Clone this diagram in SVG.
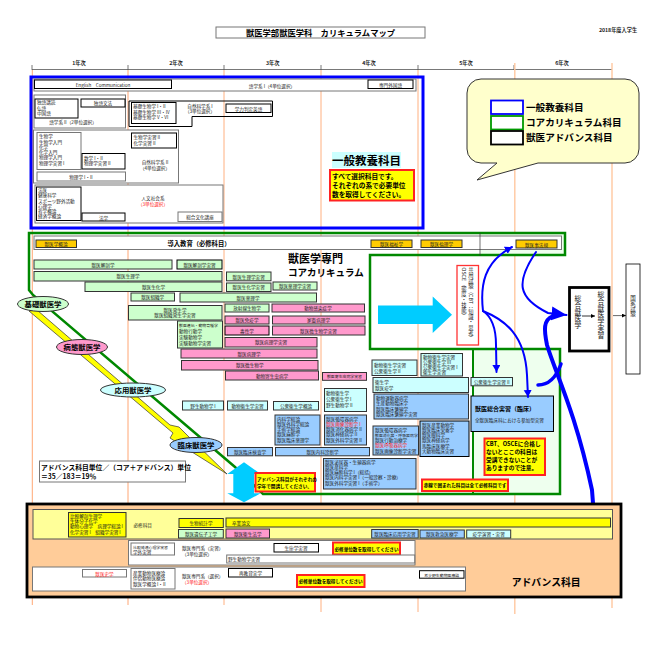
<svg xmlns="http://www.w3.org/2000/svg" width="650" height="650" viewBox="0 0 650 650">
<style>
text{font-family:"Noto Sans CJK JP","Noto Sans",sans-serif;font-size:4.6px;fill:#222}
.c{text-anchor:middle}
.b{font-weight:700;fill:#000}
.r{fill:#f22}
.y{font-size:5.2px;font-weight:700}
.v{writing-mode:vertical-rl}
.s{font-size:3.900px}
rect,ellipse,polygon{stroke:#333;stroke-width:1}
.w{fill:#fff}.g{fill:#cfc}.p{fill:#f9c}.a{fill:#cff}.u{fill:#9cf}.o{fill:#fc0}.l{fill:#ff0}
.w2{fill:#fff;stroke:#777}
.n{fill:none}
.k{fill:#fff;stroke:#000}
.e{fill:#ff0;stroke:#f22;stroke-width:2}
.bl{fill:none;stroke:#00f;stroke-linecap:round}
</style>
<defs>
<marker id="h" markerUnits="userSpaceOnUse" markerWidth="9" markerHeight="9" refX="7" refY="4" orient="auto"><path d="M0,0L7,4L0,8Z" fill="#00f"/></marker>
<marker id="hb" markerUnits="userSpaceOnUse" markerWidth="18" markerHeight="16" refX="15" refY="7" orient="auto"><path d="M0,0L15,7L0,14Z" fill="#00f"/></marker>
<marker id="hk" markerUnits="userSpaceOnUse" markerWidth="5" markerHeight="5" refX="4" refY="2" orient="auto"><path d="M0,0L4,2L0,4Z" fill="#000"/></marker>
</defs>

<g id="axis" fill="none">
<path d="M32,69.5H612M32,65V70M128,65V70M224,65V70M321,65V70M418,65V70M514,65V70" stroke="#555" stroke-width=".8"/>
<path d="M32.3,70V605M128,70V605" stroke="#ff9050" stroke-width=".8"/>
<path d="M224,70V605M321,70V612M418,70V612" stroke="#ffb080" stroke-width="1"/>
<path d="M514.8,63V614M612,63V608" stroke="#ffc8a0" stroke-width="1.4"/>
</g>
<text class="y c" x="79" y="65">1年次</text><text class="y c" x="176" y="65">2年次</text><text class="y c" x="272.7" y="65">3年次</text><text class="y c" x="369" y="65">4年次</text><text class="y c" x="466" y="65">5年次</text><text class="y c" x="562" y="65">6年次</text>
<g id="title"><rect class="w2" x="216" y="27" width="209" height="11"/><text class="b c" style="font-size:8.3px" x="320.500" y="36">獣医学部獣医学科　カリキュラムマップ</text></g>
<text class="y c" x="618" y="32">2018年度入学生</text>

<g id="legend">
<path d="M481,79H625a14,14 0 0 1 14,14V149a14,14 0 0 1-14,14H538L477,180L497,163H481a14,14 0 0 1-14-14V93a14,14 0 0 1 14-14Z" fill="#ffc" stroke="#333"/>
<rect x="491" y="100.500" width="32" height="13.500" fill="#fff" style="stroke:#00f;stroke-width:1.800"/>
<rect x="491" y="116" width="32" height="13.500" fill="#fff" style="stroke:#090;stroke-width:1.800"/>
<rect x="491" y="131" width="32" height="13.500" fill="#fff" style="stroke:#000;stroke-width:1.800"/>
<text class="b" style="font-size:9.600px" x="526" y="110.500">一般教養科目</text>
<text class="b" style="font-size:9.600px" x="526" y="125.500">コアカリキュラム科目</text>
<text class="b" style="font-size:9.600px" x="526" y="141">獣医アドバンス科目</text>
</g>

<g id="general">
<rect x="31" y="77" width="392" height="151" fill="none" style="stroke:#00f;stroke-width:3"/>
<g id="lang1"><rect class="w2" x="34" y="79" width="382" height="12"/><rect class="k" x="34.500" y="80" width="137" height="8.500"/><text class="c" x="103" y="86.500">English　Communication</text><text class="c" x="272" y="87.500">語学系 I（4単位選択）</text><rect class="k" x="368" y="80" width="45" height="8.500"/><text class="c" x="390.500" y="86.500">専門外国語</text></g>
<g id="lang2"><rect class="w2" x="34" y="95" width="91.500" height="33"/><rect class="k" x="35" y="99" width="43" height="19"/><text x="37" y="104">独語講読</text><text x="37" y="109.500">仏語</text><text x="37" y="115">中国語</text><rect class="k" x="81" y="99" width="44" height="8"/><text class="c" x="103" y="105">独語文法</text><text class="c" x="73" y="124">語学系 II（2単位選択）</text></g>
<g id="basic1"><polygon class="n" points="129,101 272.500,101 272.500,116.500 192,116.500 192,126.500 129,126.500" style="stroke:#000"/><rect class="k" x="131.500" y="102.500" width="44.500" height="21"/><text x="133" y="108">基礎生物学 I・II</text><text x="133" y="113.500">基礎生物学 III・IV</text><text x="133" y="119">基礎生物学 V・VI</text><text class="c" x="200" y="107.500">自然科学系 I</text><text class="c" x="200" y="113">（3単位選択）</text><rect class="k" x="226" y="104" width="45" height="8.500"/><text class="c" x="248.500" y="110.500">学力判定英語</text></g>
<g id="nature"><rect class="w2" x="33.500" y="130" width="145" height="53"/><rect class="w2" x="37" y="132.500" width="44" height="37"/><text x="39" y="138">生物学</text><text x="39" y="143.500">生物学入門</text><text x="39" y="148.500">化学</text><text x="39" y="154">化学入門</text><text x="39" y="159">物理学入門</text><text x="39" y="165">物理学実習 I</text><rect class="k" x="82" y="153.500" width="43" height="15.500"/><text x="84" y="159.500">数学 I・II</text><text x="84" y="165">物理学実習 II</text><rect class="w2" x="37" y="172" width="88.500" height="9"/><text class="c" x="81" y="178.500">物理学 I・II</text><rect class="k" x="131.500" y="133" width="45" height="15"/><text x="133.500" y="139">生物学実習 II</text><text x="133.500" y="145">化学実習 II</text><text class="c" x="155" y="164">自然科学系 II</text><text class="c" x="155" y="169.500">（4単位選択）</text></g>
<g id="human"><rect class="w2" x="35" y="185" width="188" height="38"/><rect class="k" x="36.500" y="187" width="44.500" height="33.500"/><text x="38" y="192">法医</text><text x="38" y="197">健康科学</text><text x="38" y="202.500">スポーツ野外活動</text><text x="38" y="207.500">心理学</text><text x="38" y="212.500">哲学概論</text><text x="38" y="217.500">経済学概論</text><rect class="k" x="82" y="213" width="43" height="8"/><text class="c" x="103.500" y="219.500">法学</text><text class="c" x="153" y="199.500">人文社会系</text><text class="c r" x="153" y="205.500">（3単位選択）</text><rect class="w2" x="178" y="212" width="44" height="9.500"/><text class="c" x="200" y="219">総合文化講座</text></g>
<g id="gen-label"><rect x="332" y="152" width="69" height="16" fill="#cff" style="stroke:none"/><text class="b c" style="font-size:11.500px" x="366.500" y="165">一般教養科目</text><rect class="e" x="330" y="170" width="84" height="30.500"/><text class="b" style="font-size:6.700px" x="332" y="178.500">すべて選択科目です。</text><text class="b" style="font-size:6.700px" x="332" y="187.500">それぞれの系で必要単位</text><text class="b" style="font-size:6.700px" x="332" y="196.500">数を取得してください。</text></g>
</g>

<g id="core-frame">
<polygon fill="#efe" style="stroke:none" points="480,233 565,233 565,255 480,255"/>
<polygon fill="#efe" style="stroke:none" points="473,349 560,349 560,494 473,494"/>
<polygon fill="none" style="stroke:#080;stroke-width:2.500" points="29,233 565,233 565,255 370,255 370,349 560,349 560,494 263,494 235,467 33,295 29,290"/>
<path d="M473,349V494" stroke="#080" stroke-width="2" fill="none"/>
<rect class="w2" x="34" y="236" width="527.500" height="13.500"/>
<path d="M480,233V256" stroke="#333" stroke-width=".7"/>
<text class="b c" style="font-size:6.300px" x="199" y="245.500">導入教育（必修科目）</text>
<text class="b" style="font-size:11px" x="288" y="263">獣医学専門</text>
<text class="b" style="font-size:9.500px" x="288" y="276">コアカリキュラム</text>
</g>

<g id="progress">
<polygon points="29,311 37,310 170,425 179,427 188,436 227,474 192,452 170,438 173,433" fill="#ff0" stroke="#000" style="stroke-width:.7"/>
<g id="basic"><ellipse cx="43" cy="304" rx="25.500" ry="7.500" class="g"/><text class="b c" style="font-size:7.400px" x="43" y="306.800">基礎獣医学</text></g>
<g id="patho"><ellipse cx="82" cy="347" rx="25.500" ry="7.500" class="p"/><text class="b c" style="font-size:7.400px" x="82" y="349.800">病態獣医学</text></g>
<g id="applied"><ellipse cx="133" cy="390" rx="32.500" ry="7" class="a"/><text class="b c" style="font-size:7.400px" x="133" y="392.800">応用獣医学</text></g>
<g id="clinical"><ellipse cx="196" cy="445" rx="26" ry="7.500" class="u"/><text class="b c" style="font-size:7.400px" x="196" y="447.800">臨床獣医学</text></g>
</g>

<g id="intro">
<g id="i1"><rect class="o" x="36" y="240" width="40.500" height="7.500"/><text class="c" x="56" y="246">獣医学概論</text></g>
<g id="i2"><rect class="o" x="371" y="240" width="41" height="7.500"/><text class="c" x="391.500" y="246">獣医福祉学</text></g>
<g id="i3"><rect class="o" x="421" y="240" width="41" height="7.500"/><text class="c" x="441.500" y="246">獣医倫理学</text></g>
<g id="i4"><rect class="o" x="516" y="240" width="41" height="8"/><text class="c" x="536.500" y="246.500">獣医事法規</text></g>
</g>

<g id="core-basic">
<g id="c1"><rect class="g" x="34" y="260" width="138" height="9"/><text class="c" x="103" y="266.500">獣医解剖学</text></g>
<g id="c2"><rect class="g" x="177" y="260" width="45" height="9" style="stroke:#000"/><text class="c" x="199.500" y="266.500">獣医解剖学実習</text></g>
<g id="c3"><rect class="g" x="34" y="271.500" width="188" height="9.500"/><text class="c" x="128" y="278">獣医生理学</text></g>
<g id="c4"><rect class="g" x="85" y="282" width="137" height="9.500"/><text class="c" x="153.500" y="288.800">獣医生化学</text></g>
<g id="c5"><rect class="g" x="226.500" y="272" width="44.500" height="8.800"/><text class="c" x="248.700" y="278.500">獣医生理学実習</text></g>
<g id="c6"><rect class="g" x="226.500" y="283" width="44.500" height="8.500"/><text class="c" x="248.700" y="289.300">獣医生化学実習</text></g>
<g id="c7"><rect class="g" x="273" y="282" width="44" height="8"/><text class="c" x="295" y="288">獣医薬理学実習</text></g>
<g id="c8"><rect class="g" x="131" y="293" width="43.500" height="8"/><text class="c" x="152.700" y="299">獣医組織学</text></g>
<g id="c9"><rect class="g" x="180" y="293" width="136.500" height="9"/><text class="c" x="248" y="299.500">獣医薬理学</text></g>
<g id="c10"><rect class="g" x="128.500" y="305.500" width="93.500" height="14.500"/><text class="c" x="175" y="311.500">獣医発生学</text><text class="c" x="175" y="317">獣医組織発生学実習</text></g>
<g id="c11"><rect class="g" x="177.500" y="321" width="45" height="27"/><text class="s" x="179" y="326.500">獣医遺伝・動物育種学</text><text x="179" y="332.500">動物行動学</text><text x="179" y="338.500">実験動物学</text><text x="179" y="344.500">実験動物学実習</text></g>
<g id="c12"><rect class="g" x="225" y="304" width="44" height="8"/><text class="c" x="247" y="310">放射線生物学</text></g>
</g>

<g id="core-patho">
<g id="p1"><rect class="p" x="272" y="304" width="92.500" height="8"/><text class="c" x="318" y="310">動物感染症学</text></g>
<g id="p2"><rect class="p" x="225" y="316" width="44" height="8"/><text class="c" x="247" y="322">獣医免疫学</text></g>
<g id="p3"><rect class="p" x="272.500" y="316" width="92.500" height="8"/><text class="c" x="318.500" y="322">家畜病理学</text></g>
<g id="p4"><rect class="p" x="225" y="326" width="44" height="9" style="stroke:#000"/><text class="c" x="247" y="332.500">毒性学</text></g>
<g id="p5"><rect class="p" x="272.500" y="326" width="92.500" height="9"/><text class="c" x="318.500" y="332.500">獣医微生物学実習</text></g>
<g id="p6"><rect class="p" x="225" y="337.500" width="92" height="9.500"/><text class="c" x="271" y="344.300">獣医病理学実習</text></g>
<g id="p7"><rect class="p" x="181" y="349" width="136" height="9"/><text class="c" x="249" y="355.500">獣医病理学</text></g>
<g id="p8"><rect class="p" x="181.500" y="360.500" width="136.500" height="9.500"/><text class="c" x="249.700" y="367">獣医微生物学</text></g>
<g id="p9"><rect class="p" x="225.500" y="371" width="93" height="9"/><text class="c" x="272" y="377.500">動物寄生虫病学</text></g>
<g id="p10"><rect class="p" x="322.500" y="372.500" width="44" height="7.800"/><text class="c s" x="344.500" y="378.300">獣医寄生虫病学実習</text></g>
</g>

<g id="core-applied">
<g id="a1"><rect class="a" x="182.500" y="401" width="41" height="9"/><text class="c" x="203" y="407.500">野生動物学 I</text></g>
<g id="a2"><rect class="a" x="227.500" y="401" width="40" height="9"/><text class="c" x="247.500" y="407.500">動物衛生学実習</text></g>
<g id="a3"><rect class="a" x="273.500" y="401.500" width="45" height="8.500"/><text class="c" x="296" y="407.800">公衆衛生学概論</text></g>
<g id="a4"><rect class="a" x="324.500" y="388.500" width="42" height="23"/><text x="326" y="394.500">動物衛生学</text><text x="326" y="400.500">公衆衛生学 I</text><text x="326" y="406.500">野生動物学 II</text></g>
<g id="a5"><rect class="a" x="372" y="360" width="45" height="15.500"/><text x="374" y="366.500">動物衛生学実習</text><text x="374" y="372.500">公衆衛生学 II</text></g>
<g id="a6"><rect class="a" x="421" y="353.500" width="41.500" height="22.500"/><text x="423" y="358.500">動物衛生学実習</text><text x="423" y="363.500">公衆衛生学 III</text><text x="423" y="368.500">公衆衛生学実習 I</text><text x="423" y="374">衛生学実習</text></g>
<g id="a7"><rect class="a" x="373" y="377.500" width="95.500" height="15"/><text x="375" y="383.500">衛生学</text><text x="375" y="389.500">獣医疫学</text></g>
<g id="a8"><rect class="a" x="471" y="377.500" width="41.500" height="8.300"/><text class="c" x="491.700" y="383.700">公衆衛生学実習 II</text></g>
</g>

<g id="core-clinical">
<g id="u1"><rect class="u" x="275" y="415" width="45" height="30"/><text x="277" y="420.500">内科学総論</text><text x="277" y="425.500">獣医外科学総論</text><text x="277" y="431">手術学総論</text><text x="277" y="436">獣医麻酔学</text><text x="277" y="441.500">獣医臨床薬理学</text></g>
<g id="u2"><rect class="u" x="324.500" y="415" width="42" height="30"/><text x="326" y="420.500">獣医循環器病学</text><text class="r" x="326" y="425.500">獣医画像診断学 I</text><text x="326" y="431">獣医消化器病学 II</text><text x="326" y="436">獣医神経病学 II</text><text x="326" y="441.500">獣医外科学実習 II</text></g>
<g id="u3"><rect class="u" x="227.500" y="447.500" width="45" height="8.300"/><text class="c" x="250" y="453.700">獣医臨床検査学</text></g>
<g id="u4"><rect class="u" x="275.500" y="447.500" width="94" height="8.300"/><text class="c" x="322.500" y="453.700">獣医内科診断学</text></g>
<g id="u5"><rect class="u" x="323.500" y="458.500" width="92.500" height="30.500"/><text x="325" y="463.500">獣医泌尿器・生殖器病学</text><text x="325" y="468.500">獣医産科学</text><text x="325" y="473.500">獣医麻酔科学 I（総括）</text><text x="325" y="479">獣医内科学実習 I（一般診察・診療）</text><text x="325" y="484.500">獣医外科学実習 I（手術学）</text></g>
<g id="u6"><rect class="u" x="374" y="394" width="94.500" height="25"/><text x="376" y="399.500">動物運動器病学</text><text x="376" y="405">生産動物臨床学</text><text x="376" y="410.500">獣医臨床繁殖学</text><text x="376" y="416">獣医臨床繁殖学実習</text></g>
<g id="u7"><rect class="u" x="373" y="426" width="45.500" height="29"/><text x="375" y="431.500">獣医循環器病学</text><text class="s" x="375" y="436.500">獣医消化器・呼吸器病学</text><text x="375" y="442">獣医行動治療学</text><text class="r" x="375" y="447">獣医呼吸器病学</text><text x="375" y="452.500">獣医画像診断学実習</text></g>
<g id="u8"><rect class="u" x="420" y="421" width="49" height="35.500" style="stroke:#000"/><text x="422" y="426.500">獣医産業動物学</text><text x="422" y="431.500">獣医臨床栄養学</text><text x="422" y="437">獣医眼科学</text><text x="422" y="442">獣医神経病学</text><text x="422" y="447.500">馬臨床医療学</text><text x="422" y="453">大動物臨床実習</text></g>
<g id="u9"><rect class="u" x="471" y="396" width="82.500" height="35.500" style="stroke:#000"/><text class="b" style="font-size:6px" x="475" y="410.500">獣医総合実習（臨床）</text><text x="475" y="421.500">全獣医臨床科における参加型実習</text></g>
<g id="note1"><rect class="e" x="484.500" y="438.500" width="60.500" height="36.500"/><text class="b" style="font-size:5.700px" x="486" y="446">CBT、OSCEに合格し</text><text class="b" style="font-size:5.700px" x="486" y="454">ないとここの科目は</text><text class="b" style="font-size:5.700px" x="486" y="462">受講できないことが</text><text class="b" style="font-size:5.700px" x="486" y="470">ありますので注意。</text></g>
<g id="note2"><rect class="e" x="422" y="479.500" width="86" height="11.500"/><text class="b c" x="465" y="487">赤線で囲まれた科目は全て必修科目です</text></g>
</g>

<g id="ratio"><rect x="39.500" y="461" width="146" height="21" fill="#fff" style="stroke:#777"/><text class="b" style="font-size:6.800px" x="41" y="469.500">アドバンス科目単位／（コア＋アドバンス）単位</text><text class="b" style="font-size:6.800px" x="41" y="478.500">＝35／183＝19％</text></g>

<g id="arrows">
<polygon points="244,462.300 260.700,474 254,474 254,493.300 260.700,493.300 244,502.300 227.300,493.300 233.300,493.300 233.300,474 227.300,474" fill="#0cf" style="stroke:none"/>
<g id="note3"><rect class="e" x="255.500" y="473" width="59.500" height="18.500"/><text class="b" x="257" y="480.500">アドバンス科目がそれぞれの</text><text class="b" x="257" y="487.500">学年で開講してください。</text></g>
<polygon points="378,305.500 432.700,305.500 432.700,296.500 452,314.700 432.700,333 432.700,324 378,324" fill="#0cf" style="stroke:none"/>
<g id="cbt"><rect x="457" y="265.500" width="21.500" height="79.500" fill="#fff" style="stroke:#f33;stroke-width:1.300"/><text class="v" style="font-size:5.300px" x="471" y="267.500">共用試験（CBT：知識・思考）</text><text class="v" style="font-size:5.300px" x="464" y="267.500">OSCE（態度・技能）</text></g>
<path class="bl" stroke-width="2" d="M483,311C480,285 484,262 512,247" marker-end="url(#h)"/>
<path class="bl" stroke-width="2" d="M483,311C492,317 496,330 496,345L496.500,372" marker-end="url(#h)"/>
<path class="bl" stroke-width="2" d="M483,311C505,320 525,335 527,375L528,397" marker-end="url(#h)"/>
<path class="bl" stroke-width="2" d="M536,252C515,283 518,298 548,313L566.500,315" marker-end="url(#hb)"/>
<path class="bl" stroke-width="4" d="M553,316C543,320 544,330 547,345C555,372 575,410 592,490L593,503"/>
<path class="bl" stroke-width="3.500" d="M538,385C548,385 556,378 561,364"/>
</g>

<g id="exam">
<g id="sogo"><rect x="569.500" y="287.500" width="39.500" height="63.500" fill="#fff" style="stroke:#000;stroke-width:2.800"/><text class="v" style="font-size:6.800px" x="578" y="295">総合獣医学</text><text class="v" style="font-size:6.800px" x="601" y="291">総合獣医学実習</text></g>
<path d="M582,316H595" stroke="#000" stroke-width=".8" marker-end="url(#hk)"/>
<path d="M613,315.600H626" stroke="#444" stroke-width=".8" marker-end="url(#hk)"/>
<g id="kokka"><rect x="626" y="264" width="14" height="110" fill="#fff" style="stroke:#000;stroke-width:.8"/><text class="v" style="font-size:5.500px" x="633" y="295">国家試験</text></g>
</g>

<g id="advanced">
<rect x="27" y="504" width="594" height="93" fill="#fc9" style="stroke:#000;stroke-width:2.800"/>
<rect x="33" y="509.500" width="579.500" height="29.500" fill="#ff9" style="stroke:#555"/>
<rect class="w2" x="128.500" y="540.500" width="286.500" height="24.500"/>
<rect class="w2" x="32.500" y="567" width="433" height="24"/>
<g id="d1"><rect class="l" x="68.500" y="512.500" width="57.500" height="24.500"/><text x="70" y="518">比較解剖生理学</text><text x="70" y="523">生体分子化学</text><text x="70" y="528">動物心理学　病理学総論 I</text><text x="70" y="533.500">化学実習 I　組織学実習 I</text></g>
<text class="c" x="142.700" y="526.500">必修科目</text>
<g id="d2"><rect class="l" x="179" y="518.500" width="44.300" height="9"/><text class="c" x="201" y="525">生物統計学</text></g>
<g id="d3"><rect class="l" x="226" y="518" width="384.500" height="9"/><text x="232" y="524.500">卒業論文</text></g>
<g id="d4"><rect class="g" x="178.500" y="529.500" width="44.800" height="8.500"/><text class="c" x="201" y="535.800">獣医遺伝子工学</text></g>
<g id="d5"><rect class="p" x="226" y="529" width="43.500" height="9"/><text class="c" x="247.700" y="535.500">獣医衛生法学</text></g>
<g id="d6"><rect class="u" x="371.700" y="529.500" width="46.500" height="8.500"/><text class="c" x="395" y="535.800">獣医臨床応用学実習</text></g>
<g id="d7"><rect class="u" x="420" y="530" width="44.300" height="8"/><text class="c" x="442" y="536">獣医救急医療学</text></g>
<g id="d8"><rect class="a" x="466.700" y="530" width="44" height="8"/><text class="c" x="488.700" y="536">疫学演習・実習</text></g>
<g id="d9"><rect class="w2" x="131" y="543" width="43.500" height="12"/><text class="s" x="133" y="548.500">比較発達心理学実習</text><text x="133" y="553.500">学外実習</text></g>
<text x="182" y="550">獣医専門系（実習）</text><text x="182" y="555.500">（3単位選択）</text>
<g id="d10"><rect class="k" x="274" y="543.500" width="44.500" height="8.500"/><text class="c" x="296" y="550">生命学実習</text></g>
<g id="d11"><rect class="e" x="333" y="542.500" width="67" height="12"/><text class="b c" x="366.500" y="550.500">必修単位数を取得してください</text></g>
<g id="d12"><rect class="w2" x="226.700" y="555" width="188" height="8"/><text x="228" y="561">野生動物学実習</text></g>
<g id="d13"><rect class="w2" x="82.500" y="569.500" width="44" height="7.500"/><text class="c r" x="104.500" y="575.500">獣医史学</text></g>
<g id="d14"><rect class="w2" x="131" y="568.500" width="44" height="20.500"/><text x="133" y="574.500">産業動物医療論</text><text x="133" y="580">伴侶動物医療論</text><text x="133" y="586">獣医学概論 I・II</text></g>
<text x="182" y="577.500">獣医専門系（選択）</text><text class="r" x="182" y="583.500">（3単位選択）</text>
<g id="d15"><rect class="k" x="228.500" y="568.500" width="44" height="8.500"/><text class="c" x="250.500" y="574.800">再教育実学</text></g>
<g id="d16"><rect class="e" x="297" y="575" width="67.500" height="12"/><text class="b c" x="330.700" y="582.800">必修単位数を取得してください</text></g>
<g id="d17"><rect class="k" x="419.500" y="570.700" width="44.500" height="7.500"/><text class="c s" x="441.700" y="576.500">希少野生動物医療論</text></g>
<text class="b" style="font-size:9.800px" x="511.700" y="586">アドバンス科目</text>
</g>
</svg>
